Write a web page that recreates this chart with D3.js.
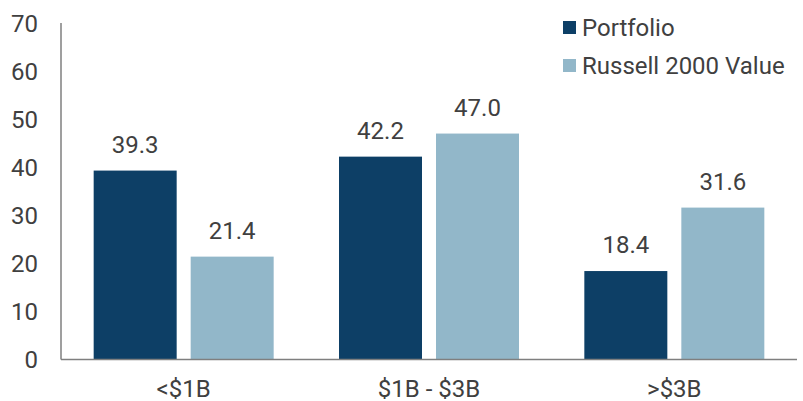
<!DOCTYPE html>
<html>
<head>
<meta charset="utf-8">
<script src="https://cdn.jsdelivr.net/npm/d3@7"></script>
<style>
body{margin:0;background:#fff;}
text{font-family:Roboto, "Noto Sans", sans-serif;fill:#404040;}
</style>
</head>
<body>
<div id="vis"></div>
<script>
// data
var categories = ["<$1B", "$1B - $3B", ">$3B"];
var seriesNames = ["Portfolio", "Russell 2000 Value"];
var portfolio = [39.3, 42.2, 18.4];
var russell = [21.4, 47.0, 31.6];
var yTicks = [0, 10, 20, 30, 40, 50, 60, 70];
var colors = ["#0d3f66", "#92b7c9"];

var W = 803, H = 401;
var svg = d3.select("#vis").append("svg").attr("width", W).attr("height", H);

// scales
var x = d3.scaleBand().domain(categories).range([61, 797]);
var y = d3.scaleLinear().domain([0, 70]).range([359.5, 23]);
var barW = 83, gap = 14;
var fs = "24px";

// y labels
svg.selectAll(".ylab").data(yTicks).enter().append("text")
    .attr("x", 38).attr("y", d => y(d)).attr("dy", "0.36em")
    .attr("text-anchor", "end").style("font-size", fs)
    .text(d => d);

// bars
var rows = categories.map((c, i) => ({cat: c, vals: [portfolio[i], russell[i]]}));
rows.forEach(function(r){
    var cx = x(r.cat) + x.bandwidth() / 2;
    r.vals.forEach(function(v, j){
        var bx = j == 0 ? cx - gap / 2 - barW : cx + gap / 2;
        svg.append("rect").attr("x", bx).attr("y", y(v))
            .attr("width", barW).attr("height", y(0) - y(v))
            .attr("fill", colors[j]);
        svg.append("text").attr("x", bx + barW / 2).attr("y", y(v) - 18)
            .attr("text-anchor", "middle").style("font-size", fs)
            .text(v.toFixed(1));
    });
    svg.append("text").attr("x", cx).attr("y", 397)
        .attr("text-anchor", "middle").style("font-size", fs)
        .text(r.cat);
});

// axes lines
svg.append("line").attr("x1", 61).attr("x2", 61).attr("y1", y(70)).attr("y2", y(0))
    .attr("stroke", "#7f7f7f").attr("stroke-width", 1.5);
svg.append("line").attr("x1", 61).attr("x2", 797).attr("y1", y(0)).attr("y2", y(0))
    .attr("stroke", "#7f7f7f").attr("stroke-width", 1.5);

// legend
seriesNames.forEach(function(n, i){
    svg.append("rect").attr("x", 563).attr("y", 21 + i * 38).attr("width", 13).attr("height", 13)
        .attr("fill", colors[i]);
    svg.append("text").attr("x", 582).attr("y", 36 + i * 37.5).style("font-size", fs).text(n);
});
</script>
</body>
</html>
